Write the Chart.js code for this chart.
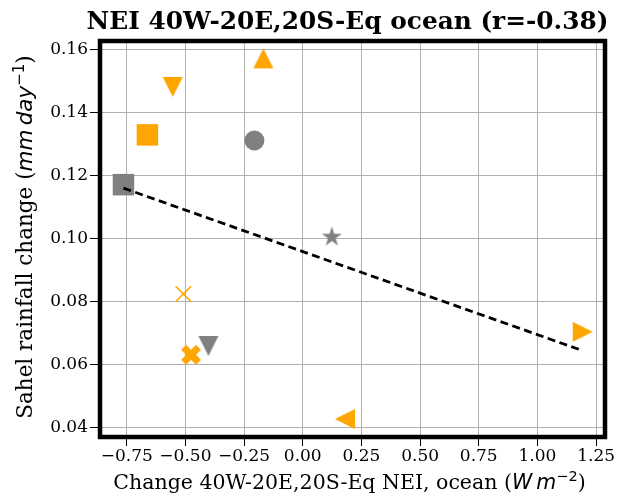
<!DOCTYPE html>
<html lang="en">
<head>
    <meta charset="UTF-8">
    <title>NEI 40W-20E,20S-Eq ocean</title>
    <script src="https://cdn.jsdelivr.net/npm/chart.js"></script>
    <style>
        html, body { margin: 0; padding: 0; background: #fff; }
        canvas { display: block; }
    </style>
</head>
<body>
    <canvas id="myChart" width="621" height="500"></canvas>

    <script>
        // values
        const xVals = [-0.764, -0.662, -0.554, -0.168, -0.206, 0.124, -0.509, -0.402, -0.476, 0.18, 1.193];
        const yVals = [0.117, 0.1328, 0.148, 0.1571, 0.131, 0.1007, 0.0823, 0.0658, 0.063, 0.0426, 0.0703];
        const groups = ['gray', 'orange', 'orange', 'orange', 'gray', 'gray', 'orange', 'gray', 'orange', 'orange', 'orange'];
        const markers = ['rect', 'rect', 'triDown', 'triUp', 'circle', 'star', 'x', 'triDown', 'X', 'triLeft', 'triRight'];

        // regression line ends
        const lineX = [-0.764, 1.193];
        const lineY = [0.1159, 0.0643];

        const xTicks = [-0.75, -0.5, -0.25, 0, 0.25, 0.5, 0.75, 1.0, 1.25];
        const yTicks = [0.04, 0.06, 0.08, 0.10, 0.12, 0.14, 0.16];

        const colorOf = { orange: '#ffa500', gray: '#808080' };
        const serif = "'DejaVu Serif', serif";
        const sans = "'DejaVu Sans', sans-serif";

        // small canvases for marker shapes chart.js does not have
        const makeMarker = (shape, color, size) => {
            const c = document.createElement('canvas');
            c.width = c.height = size + 2;
            const g = c.getContext('2d');
            const h = size / 2;
            g.translate(c.width / 2, c.height / 2);
            g.fillStyle = color;
            g.beginPath();
            if (shape === 'star') {
                for (let i = 0; i < 10; i++) {
                    const r = i % 2 === 0 ? h : h * 0.382;
                    const a = -Math.PI / 2 + i * Math.PI / 5;
                    g.lineTo(Math.cos(a) * r, Math.sin(a) * r + h * 0.1);
                }
            } else if (shape === 'X') {
                g.rotate(Math.PI / 4);
                const s = h / 2.85;
                const pts = [[-1, -3], [-1, -1], [-3, -1], [-3, 1], [-1, 1], [-1, 3], [1, 3], [1, 1], [3, 1], [3, -1], [1, -1], [1, -3]];
                pts.forEach(p => g.lineTo(p[0] * s, p[1] * s));
            } else {
                let pts;
                if (shape === 'triUp') pts = [[0, -h], [h, h], [-h, h]];
                if (shape === 'triDown') pts = [[-h, -h], [h, -h], [0, h]];
                if (shape === 'triLeft') pts = [[-h, 0], [h, -h], [h, h]];
                if (shape === 'triRight') pts = [[h, 0], [-h, h], [-h, -h]];
                pts.forEach(p => g.lineTo(p[0], p[1]));
            }
            g.closePath();
            g.fill();
            return c;
        };

        const pointStyles = [];
        const radii = [];
        const borderWidths = [];
        markers.forEach((m, i) => {
            const col = colorOf[groups[i]];
            if (m === 'rect') { pointStyles.push('rect'); radii.push(15.2); borderWidths.push(0); }
            else if (m === 'circle') { pointStyles.push('circle'); radii.push(10); borderWidths.push(0); }
            else if (m === 'x') { pointStyles.push('crossRot'); radii.push(11); borderWidths.push(1.6); }
            else if (m === 'star') { pointStyles.push(makeMarker('star', col, 21)); radii.push(10); borderWidths.push(0); }
            else { pointStyles.push(makeMarker(m, col, 20)); radii.push(10); borderWidths.push(0); }
        });

        const fmt = v => v.toFixed(2).replace('-', '\u2212');

        // draws a line of text built from pieces with their own fonts
        const drawPieces = (ctx, pieces, cx, cy) => {
            let total = 0;
            pieces.forEach(p => { ctx.font = p.font; total += ctx.measureText(p.text).width; });
            let x = cx - total / 2;
            pieces.forEach(p => {
                ctx.font = p.font;
                ctx.fillText(p.text, x, cy + (p.dy || 0));
                x += ctx.measureText(p.text).width;
            });
        };

        const decorations = {
            id: 'decorations',
            beforeDatasetsDraw(chart) {
                const { ctx, chartArea: a } = chart;
                ctx.save();
                ctx.strokeStyle = '#000';
                ctx.lineWidth = 4.5;
                ctx.strokeRect(a.left, a.top, a.right - a.left, a.bottom - a.top);
                ctx.restore();
            },
            afterDraw(chart) {
                const { ctx, chartArea: a } = chart;
                const cx = (a.left + a.right) / 2;
                const cy = (a.top + a.bottom) / 2;
                ctx.save();
                ctx.fillStyle = '#000';
                ctx.textBaseline = 'alphabetic';
                ctx.textAlign = 'left';

                drawPieces(ctx, [{ text: 'NEI 40W-20E,20S-Eq ocean (r=-0.38)', font: 'bold 24.8px ' + serif }], cx - 5, 29);

                drawPieces(ctx, [
                    { text: 'Change 40W-20E,20S-Eq NEI, ocean (', font: '20.5px ' + serif },
                    { text: 'W', font: 'italic 20.5px ' + sans },
                    { text: '\u2009', font: '20.5px ' + sans },
                    { text: 'm', font: 'italic 20.5px ' + sans },
                    { text: '\u22122', font: '14.5px ' + sans, dy: -8 },
                    { text: ')', font: '20.5px ' + serif }
                ], cx - 3, 489);

                ctx.translate(32, cy - 2);
                ctx.rotate(-Math.PI / 2);
                drawPieces(ctx, [
                    { text: 'Sahel rainfall change (', font: '21.5px ' + serif },
                    { text: 'mm', font: 'italic 21.5px ' + sans },
                    { text: '\u2009', font: '21.5px ' + sans },
                    { text: 'day', font: 'italic 21.5px ' + sans },
                    { text: '\u22121', font: '15px ' + sans, dy: -8.5 },
                    { text: ')', font: '21.5px ' + serif }
                ], 0, 0);
                ctx.restore();
            }
        };

        const ctx = document.getElementById('myChart').getContext('2d');
        const myChart = new Chart(ctx, {
            type: 'scatter',
            data: {
                datasets: [
                    {
                        type: 'line',
                        data: lineX.map((x, i) => ({ x: x, y: lineY[i] })),
                        borderColor: '#000',
                        borderWidth: 2.8,
                        borderDash: [8, 4.5],
                        pointRadius: 0,
                        fill: false,
                        order: 0
                    },
                    {
                        data: xVals.map((x, i) => ({ x: x, y: yVals[i] })),
                        pointStyle: pointStyles,
                        pointRadius: radii,
                        pointBorderWidth: borderWidths,
                        pointBackgroundColor: groups.map(g => colorOf[g]),
                        pointBorderColor: groups.map(g => colorOf[g]),
                        order: 1
                    }
                ]
            },
            options: {
                responsive: false,
                animation: false,
                layout: { padding: { left: 0, top: 41, right: 16, bottom: 0 } },
                plugins: {
                    legend: { display: false },
                    tooltip: { enabled: false },
                    title: { display: false }
                },
                scales: {
                    x: {
                        type: 'linear',
                        min: -0.864,
                        max: 1.288,
                        afterBuildTicks: s => { s.ticks = xTicks.map(v => ({ value: v })); },
                        afterFit: s => { s.height = 63; },
                        ticks: {
                            callback: v => fmt(v),
                            color: '#000',
                            font: { family: serif, size: 17 },
                            padding: 0,
                            maxRotation: 0,
                            autoSkip: false
                        },
                        grid: { color: '#b0b0b0', lineWidth: 1, tickColor: '#000', tickLength: 9 },
                        border: { display: false }
                    },
                    y: {
                        type: 'linear',
                        min: 0.0369,
                        max: 0.1626,
                        afterBuildTicks: s => { s.ticks = yTicks.map(v => ({ value: v })); },
                        afterFit: s => { s.width = 100; },
                        ticks: {
                            callback: v => fmt(v),
                            color: '#000',
                            font: { family: serif, size: 17 },
                            padding: 2,
                            autoSkip: false
                        },
                        grid: { color: '#b0b0b0', lineWidth: 1, tickColor: '#000', tickLength: 10 },
                        border: { display: false }
                    }
                }
            },
            plugins: [decorations]
        });
    </script>
</body>
</html>
